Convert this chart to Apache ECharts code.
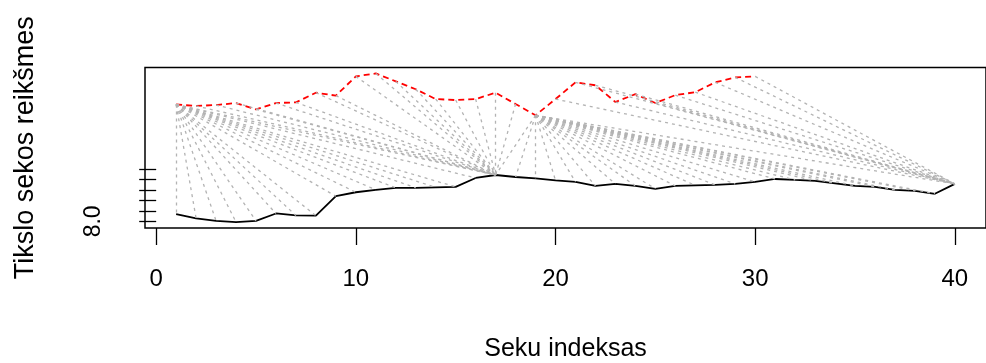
<!DOCTYPE html>
<html>
<head>
<meta charset="utf-8">
<script src="https://cdn.jsdelivr.net/npm/echarts@6/dist/echarts.min.js"></script>
<style>
  html, body { margin: 0; padding: 0; background: #ffffff; }
  #chart { width: 986px; height: 363px; }
</style>
</head>
<body>
<div id="chart"></div>
<script>
// Query series (black, solid), one value per index 1..40
const querySeries = [
  8.138, 8.057, 8.009, 7.987, 8.009, 8.151, 8.113, 8.108, 8.481, 8.557,
  8.604, 8.642, 8.642, 8.651, 8.660, 8.830, 8.887, 8.849, 8.821, 8.783,
  8.755, 8.679, 8.717, 8.679, 8.623, 8.679, 8.689, 8.698, 8.717, 8.755,
  8.811, 8.792, 8.774, 8.726, 8.679, 8.660, 8.604, 8.585, 8.528, 8.717
];

// Reference series shifted upward (red, dashed), one value per index 1..30
const referenceSeries = [
  10.236, 10.208, 10.226, 10.264, 10.142, 10.264, 10.277, 10.462, 10.406, 10.774,
  10.830, 10.679, 10.528, 10.340, 10.321, 10.340, 10.462, 10.245, 10.030, 10.340,
  10.660, 10.604, 10.283, 10.434, 10.264, 10.415, 10.472, 10.660, 10.755, 10.774
];

// Warping path: matched index pairs (reference index, query index)
const pathReference = [
  1, 1, 1, 1, 1, 1, 1, 1, 1, 1, 1, 1, 1, 1, 1, 1, 1,
  2, 3, 4, 5, 6, 7, 8, 9, 10, 11, 12, 13, 14, 15, 16, 17, 18, 19,
  19, 19, 19, 19, 19, 19, 19, 19, 19, 19, 19, 19, 19, 19, 19, 19, 19, 19, 19, 19, 19, 19, 19,
  20, 21, 22, 23, 24, 25, 26, 27, 28, 29, 30
];
const pathQuery = [
  1, 2, 3, 4, 5, 6, 7, 8, 9, 10, 11, 12, 13, 14, 15, 16, 17,
  17, 17, 17, 17, 17, 17, 17, 17, 17, 17, 17, 17, 17, 17, 17, 17, 17, 17,
  18, 19, 20, 21, 22, 23, 24, 25, 26, 27, 28, 29, 30, 31, 32, 33, 34, 35, 36, 37, 38, 39, 40,
  40, 40, 40, 40, 40, 40, 40, 40, 40, 40, 40
];

// Axis ticks
const xTicks = [0, 10, 20, 30, 40];
const yTicks = [8.0, 8.2, 8.4, 8.6, 8.8, 9.0];
const yTickLabels = [8.0];

const queryData = querySeries.map((v, i) => [i + 1, v]);
const referenceData = referenceSeries.map((v, i) => [i + 1, v]);
const matchData = pathReference.map((r, k) => {
  const q = pathQuery[k];
  return { coords: [[r, referenceSeries[r - 1]], [q, querySeries[q - 1]]] };
});

const font = '"Liberation Sans", Arial, sans-serif';

const chart = echarts.init(document.getElementById('chart'), null, { renderer: 'canvas' });
chart.setOption({
  animation: false,
  backgroundColor: '#ffffff',
  grid: {
    left: 145, top: 67.5, width: 851, height: 163.5,
    show: true, borderColor: '#000000', borderWidth: 1.5, backgroundColor: 'transparent'
  },
  xAxis: {
    type: 'value',
    min: -0.56, max: 41.56,
    splitLine: { show: false },
    axisLine: { show: false },
    axisTick: { show: true, length: 17, customValues: xTicks, lineStyle: { color: '#000', width: 1.3 } },
    axisLabel: { customValues: xTicks, margin: 39, fontSize: 24, color: '#000', fontFamily: font },
    name: 'Seku indeksas',
    nameLocation: 'middle',
    nameGap: 109,
    nameTextStyle: { fontSize: 25, color: '#000', fontFamily: font }
  },
  yAxis: {
    type: 'value',
    min: 7.873, max: 10.944,
    splitLine: { show: false },
    axisLine: { show: false },
    axisTick: { show: true, length: 17, customValues: yTicks, lineStyle: { color: '#000', width: 1.3 } },
    axisLabel: {
      customValues: yTickLabels, rotate: 90, margin: 40, fontSize: 23, color: '#000', fontFamily: font,
      formatter: v => v.toFixed(1)
    },
    name: 'Tikslo sekos reikšmes',
    nameLocation: 'middle',
    nameGap: 106,
    nameTextStyle: { fontSize: 27, color: '#000', fontFamily: font }
  },
  series: [
    {
      type: 'line', data: queryData, showSymbol: false, z: 2,
      lineStyle: { color: '#000000', width: 1.8 }
    },
    {
      type: 'line', data: referenceData, showSymbol: false, z: 2,
      lineStyle: { color: '#ff0000', width: 1.8, type: [6, 4] }
    },
    {
      type: 'lines', coordinateSystem: 'cartesian2d', z: 3,
      data: matchData,
      lineStyle: { color: '#b3b3b3', width: 1.3, type: [3, 4], opacity: 1 }
    }
  ]
});
</script>
</body>
</html>
